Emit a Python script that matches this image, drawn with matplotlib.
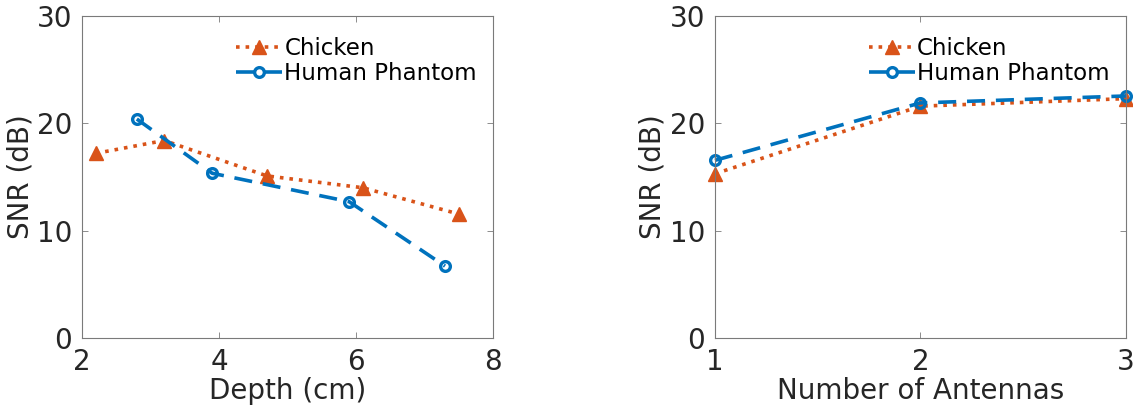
from matplotlib import pyplot as plt

# left panel: SNR vs depth
depth_chicken = [2.2, 3.2, 4.7, 6.1, 7.5]
snr_chicken_depth = [17.2, 18.4, 15.1, 14.0, 11.55]
depth_human = [2.8, 3.9, 5.9, 7.3]
snr_human_depth = [20.4, 15.35, 12.7, 6.7]

# right panel: SNR vs number of antennas
antennas = [1, 2, 3]
snr_chicken_ant = [15.3, 21.6, 22.3]
snr_human_ant = [16.55, 21.9, 22.55]

ORANGE = '#D95319'
BLUE = '#0072BD'
GRAY = '#262626'
AXCOL = '#7a7a7a'

plt.rcParams['font.family'] = 'DejaVu Sans'

fig = plt.figure(figsize=(11.33, 4.11), dpi=100)
ax1 = fig.add_axes([0.0724, 0.1776, 0.3627, 0.7835])
ax2 = fig.add_axes([0.631, 0.1776, 0.3627, 0.7835])


def draw(ax, xc, yc, xh, yh, xlim, xticks, xlabel):
    ax.plot(xc, yc, linestyle=':', color=ORANGE, linewidth=2.6,
            marker='^', markersize=10, markerfacecolor=ORANGE,
            markeredgecolor=ORANGE, label='Chicken')
    ax.plot(xh, yh, linestyle=(0, (5, 3)), color=BLUE, linewidth=2.6,
            marker='o', markersize=7, markerfacecolor='none',
            markeredgewidth=2.4, markeredgecolor=BLUE, label='Human Phantom')
    ax.set_xlim(*xlim)
    ax.set_ylim(0, 30)
    ax.set_xticks(xticks)
    ax.set_yticks([0, 10, 20, 30])
    ax.set_xlabel(xlabel, fontsize=20, color=GRAY, labelpad=1)
    ax.set_ylabel('SNR (dB)', fontsize=20, color=GRAY, labelpad=2)
    ax.tick_params(direction='in', length=4, width=0.6, colors=AXCOL,
                   labelcolor=GRAY, labelsize=20, top=True, right=True, pad=7)
    for s in ax.spines.values():
        s.set_color(AXCOL)
        s.set_linewidth(0.8)
    ax.legend(loc='upper right', frameon=False, fontsize=16.5, handlelength=2.0,
              handletextpad=0.1, borderaxespad=0.3, labelspacing=0.1,
              bbox_to_anchor=(1.0, 0.985))


draw(ax1, depth_chicken, snr_chicken_depth, depth_human, snr_human_depth,
     (2, 8), [2, 4, 6, 8], 'Depth (cm)')
draw(ax2, antennas, snr_chicken_ant, antennas, snr_human_ant,
     (1, 3), [1, 2, 3], 'Number of Antennas')
for line in ax2.lines:
    line.set_clip_on(False)

fig.savefig('out.png', dpi=100)
